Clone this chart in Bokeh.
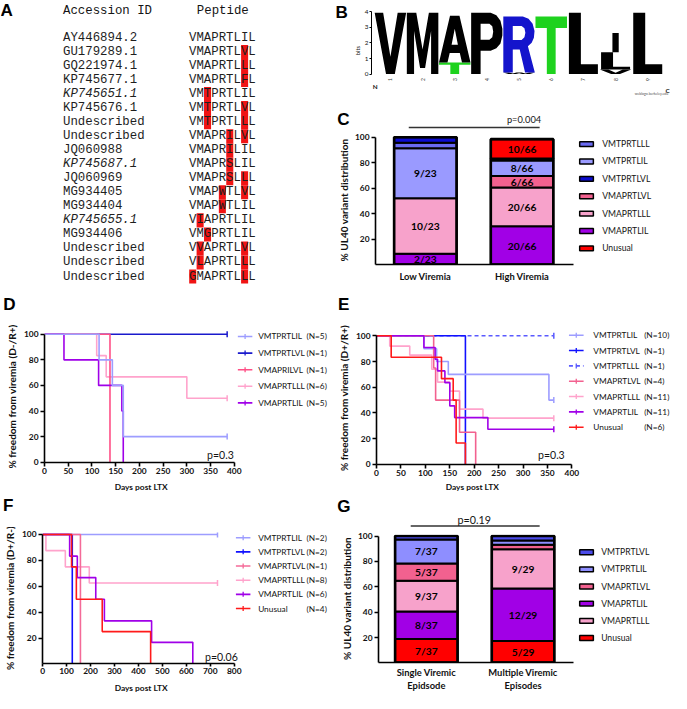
import numpy as np
from bokeh.plotting import figure
from bokeh.models import Range1d, FixedTicker, LinearAxis, ColumnDataSource
from bokeh.layouts import row, column
from bokeh.embed import file_html
from bokeh.resources import INLINE
from bokeh.core.properties import value

# ------------------------------------------------------------------ data
accession_ids = ["AY446894.2", "GU179289.1", "GQ221974.1", "KP745677.1", "KP745651.1",
                 "KP745676.1", "Undescribed", "Undescribed", "JQ060988", "KP745687.1",
                 "JQ060969", "MG934405", "MG934404", "KP745655.1", "MG934406",
                 "Undescribed", "Undescribed", "Undescribed"]
accession_italic = ["KP745651.1", "KP745687.1", "KP745655.1"]
peptides = ["VMAPRTLIL", "VMAPRTLVL", "VMAPRTLLL", "VMAPRTLFL", "VMTPRTLIL",
            "VMTPRTLVL", "VMTPRTLLL", "VMAPRILVL", "VMAPRILIL", "VMAPRSLIL",
            "VMAPRSLLL", "VMAPWTLVL", "VMAPWTLIL", "VIAPRTLIL", "VMGPRTLIL",
            "VVAPRTLVL", "VLAPRTLLL", "GMAPRTLLL"]
reference_peptide = "VMAPRTLIL"

logo_positions = [1, 2, 3, 4, 5, 6, 7, 8, 9]
logo_letters = [["V"], ["M"], ["T", "A"], ["P"], ["W", "R"], ["T"], ["L"], ["V", "L", "I"], ["L"]]
logo_bits = [[3.95], [3.95], [0.75, 3.0], [3.95], [0.1, 3.6], [3.7], [3.95], [0.3, 1.1, 1.25], [3.95]]
logo_ticks = [0, 1, 2, 3, 4]

c_groups = ["Low Viremia", "High Viremia"]
c_variants = ["VMAPRTLIL", "VMAPRTLLL", "VMAPRTLVL", "VMTPRTLIL", "VMTPRTLLL", "VMTPRTLVL", "Unusual"]
c_low = [2, 10, 0, 9, 1, 1, 0]
c_high = [20, 20, 6, 8, 0, 1, 10]
c_totals = [23, 66]
c_legend_order = ["VMTPRTLLL", "VMTPRTLIL", "VMTPRTLVL", "VMAPRTLVL", "VMAPRTLLL", "VMAPRTLIL", "Unusual"]
c_pvalue = "p=0.004"

g_groups = ["Single Viremic\nEpidsode", "Multiple Viremic\nEpisodes"]
g_variants = ["Unusual", "VMAPRTLIL", "VMAPRTLLL", "VMAPRTLVL", "VMTPRTLIL", "VMTPRTLVL"]
g_single = [7, 8, 9, 5, 7, 1]
g_multiple = [5, 12, 9, 1, 1, 1]
g_totals = [37, 29]
g_legend_order = ["VMTPRTLVL", "VMTPRTLIL", "VMAPRTLVL", "VMAPRTLIL", "VMAPRTLLL", "Unusual"]
g_pvalue = "p=0.19"

pct_ticks = [0, 20, 40, 60, 80, 100]
days_label = "Days post LTX"

d_names = ["VMTPRTLIL", "VMTPRTLVL", "VMAPRILVL", "VMAPRTLLL", "VMAPRTLIL"]
d_n = [5, 1, 1, 6, 5]
d_times = [[0, 115, 143, 166, 385], [0, 385], [0, 138], [0, 110, 130, 300, 385], [0, 41, 114, 163, 166]]
d_surv = [[100, 80, 60, 20, 20], [100, 100], [100, 0], [100, 83.3, 66.7, 50, 50], [100, 80, 60, 40, 0]]
d_censored = [True, True, False, True, False]
d_pvalue = "p=0.3"
d_days_ticks = [0, 50, 100, 150, 200, 250, 300, 350, 400]

e_names = ["VMTPRTLIL", "VMTPRTLVL", "VMTPRTLLL", "VMAPRTLVL", "VMAPRTLLL", "VMAPRTLIL", "Unusual"]
e_n = [10, 1, 1, 4, 11, 11, 6]
e_times = [[0, 97, 123, 147, 353, 363], [0, 182], [0, 363], [0, 117, 121, 170, 203],
           [0, 27, 68, 113, 125, 150, 170, 218, 363],
           [0, 97, 120, 125, 140, 150, 160, 228, 363],
           [0, 30, 133, 157, 163, 182]]
e_surv = [[100, 90, 80, 70, 50, 50], [100, 0], [100, 100], [100, 75, 50, 25, 0],
          [100, 92, 85, 74, 64, 57, 43, 36, 36],
          [100, 90.9, 81.8, 72.7, 63.6, 45.5, 36.4, 27.3, 27.3],
          [100, 83.3, 66.7, 50, 16.7, 0]]
e_censored = [True, False, True, False, True, True, False]
e_pvalue = "p=0.3"
e_days_ticks = [0, 50, 100, 150, 200, 250, 300, 350, 400]

f_names = ["VMTPRTLIL", "VMTPRTLVL", "VMAPRTLVL", "VMAPRTLLL", "VMAPRTLIL", "Unusual"]
f_n = [2, 2, 1, 8, 6, 4]
f_times = [[0, 730], [0, 124], [0, 158], [0, 14, 95, 195, 730],
           [0, 113, 145, 222, 258, 455, 627], [0, 121, 141, 249, 451]]
f_surv = [[100, 100], [100, 0], [100, 0], [100, 87.5, 75, 62.5, 62.5],
          [100, 83.3, 66.7, 50, 33.3, 16.7, 0], [100, 75, 50, 25, 0]]
f_censored = [True, False, False, True, False, False]
f_pvalue = "p=0.06"
f_days_ticks = [0, 100, 200, 300, 400, 500, 600, 700, 800]

# ------------------------------------------------------------------ style
S = 671 / 687.0
SANS = "Lato"
MONO = "Liberation Mono"
LETTER = "Liberation Sans"
LETTER_SIZE = 17.5

BAR_COLORS = {"VMTPRTLLL": "#6a6af2", "VMTPRTLIL": "#9a9aff", "VMTPRTLVL": "#0c0cd0",
              "VMAPRTLVL": "#f2618f", "VMAPRTLLL": "#f7a2cb", "VMAPRTLIL": "#a100e6",
              "Unusual": "#ff0000"}
G_COLORS = dict(BAR_COLORS, VMTPRTLVL="#4b4bea", VMTPRTLIL="#8e8eff")
LAV, LPINK, PURPLE, RED = "#9d9dff", "#ffa3cc", "#a000e8", "#ff1a1a"
D_COLORS = [LAV, "#1a1acc", "#ff4f86", LPINK, PURPLE]
E_COLORS = [LAV, "#1010ff", "#5a5aff", "#f2618f", LPINK, PURPLE, RED]
E_DASH = ["solid", "solid", "4 3", "solid", "solid", "solid", "solid"]
F_COLORS = [LAV, "#1010ff", "#f46a98", LPINK, PURPLE, RED]

LOGO_COLORS = {"T": "#1ed21e", "S": "#1ed21e", "G": "#1ed21e", "R": "#1414cc"}
LETTER_SHAPES = {
    "V": [[[(0, 1), (0.27, 1), (0.5, 0.28), (0.73, 1), (1, 1), (0.64, 0), (0.36, 0)]]],
    "M": [[[(0, 0), (0, 1), (0.3, 1), (0.5, 0.4), (0.7, 1), (1, 1), (1, 0), (0.77, 0), (0.77, 0.7),
            (0.58, 0.1), (0.42, 0.1), (0.23, 0.7), (0.23, 0)]]],
    "A": [[[(0, 0), (0.35, 1), (0.65, 1), (1, 0), (0.73, 0), (0.66, 0.2), (0.34, 0.2), (0.27, 0)],
           [(0.4, 0.38), (0.6, 0.38), (0.5, 0.72)]]],
    "T": [[[(0, 1), (1, 1), (1, 0.8), (0.64, 0.8), (0.64, 0), (0.36, 0), (0.36, 0.8), (0, 0.8)]]],
    "L": [[[(0.04, 0), (0.04, 1), (0.42, 1), (0.42, 0.16), (0.96, 0.16), (0.96, 0)]]],
    "I": [[[(0.4, 0), (0.4, 1), (0.6, 1), (0.6, 0)]]],
    "P": [[[(0, 0), (0, 1), (0.62, 1), (0.8, 0.96), (0.93, 0.87), (0.99, 0.74), (0.99, 0.63),
            (0.93, 0.5), (0.8, 0.42), (0.62, 0.38), (0.3, 0.38), (0.3, 0)],
           [(0.3, 0.56), (0.3, 0.82), (0.58, 0.82), (0.67, 0.78), (0.7, 0.69), (0.67, 0.6), (0.58, 0.56)]]],
    "R": [[[(0, 0), (0, 1), (0.62, 1), (0.8, 0.96), (0.93, 0.87), (0.99, 0.74), (0.97, 0.62),
            (0.9, 0.53), (0.78, 0.47), (1, 0), (0.69, 0), (0.52, 0.41), (0.3, 0.41), (0.3, 0)],
           [(0.3, 0.58), (0.3, 0.83), (0.58, 0.83), (0.67, 0.79), (0.7, 0.71), (0.67, 0.63), (0.58, 0.58)]]],
    "W": [[[(0, 1), (0.18, 1), (0.3, 0.3), (0.42, 1), (0.58, 1), (0.7, 0.3), (0.82, 1), (1, 1),
            (0.84, 0), (0.6, 0), (0.5, 0.55), (0.4, 0), (0.16, 0)]]],
}
LETTER_ADVANCE = {"A": 0.722, "B": 0.722, "C": 0.722, "D": 0.722, "E": 0.667, "F": 0.611, "G": 0.778}


def fs(v):
    return f"{v * S:.2f}px"


def _fig(W, H, xr, yr, L=0, R=0, T=0, B=0):
    p = figure(width=W, height=H, x_range=xr, y_range=yr, x_axis_type=None, y_axis_type=None,
               output_backend="svg", toolbar_location=None,
               min_border_left=L, min_border_right=R, min_border_top=T, min_border_bottom=B)
    p.outline_line_color = None
    p.background_fill_color = "white"
    p.border_fill_color = "white"
    return p


def strip(W, H, px0, py0, L=0, R=0, T=0, B=0):
    """Figure drawn in reference-pixel units (y downwards); frame inset by the given borders."""
    xr = Range1d((px0 + L) / S, (px0 + W - R) / S)
    yr = Range1d((py0 + H - B) / S, (py0 + T) / S)
    return _fig(W, H, xr, yr, L, R, T, B)


def strip_letter(p, t, left_ref, px0, L):
    """Panel letter rendered as a horizontal axis label in the strip's left border."""
    adv = LETTER_ADVANCE[t] * LETTER_SIZE * S
    standoff = int(round(L - (left_ref - px0 / S) * S - adv))
    ax = LinearAxis(ticker=FixedTicker(ticks=[]), axis_label=t)
    ax.axis_label_orientation = "horizontal"
    ax.axis_line_color = None
    ax.major_tick_line_color = None
    ax.minor_tick_line_color = None
    ax.major_tick_out = 0
    ax.major_tick_in = 0
    ax.major_label_standoff = 0
    ax.axis_label_standoff = max(0, standoff)
    ax.axis_label_text_font = LETTER
    ax.axis_label_text_font_style = "bold"
    ax.axis_label_text_font_size = fs(LETTER_SIZE)
    ax.axis_label_text_color = "black"
    p.add_layout(ax, "left")


def panel(W, H, px0, py0, frame, xmap, ymap):
    ox, oy = px0 / S, py0 / S
    fx0, fy0, fx1, fy1 = frame
    L = max(0, int(round((fx0 - ox) * S)))
    R = max(0, W - int(round((fx1 - ox) * S)))
    T = max(0, int(round((fy0 - oy) * S)))
    B = max(0, H - int(round((fy1 - oy) * S)))
    ax0, ax1 = ox + L / S, ox + (W - R) / S
    ay0, ay1 = oy + T / S, oy + (H - B) / S
    ra, da, rb, db = xmap
    ya, dya, yb, dyb = ymap

    def X(r):
        return da + (r - ra) * (db - da) / (rb - ra)

    def Y(r):
        return dya + (r - ya) * (dyb - dya) / (yb - ya)

    p = _fig(W, H, Range1d(X(ax0), X(ax1)), Range1d(Y(ay1), Y(ay0)), L, R, T, B)
    return p, X, Y, L, R


def add_axis(p, side, ticks, bounds, label=None, tick_size=8.6, label_size=10.3, tick_out=4,
             lab_standoff=2, axlab_standoff=3, overrides=None, lw=1.6, tick_style="bold", label_style="bold"):
    ax = LinearAxis(ticker=FixedTicker(ticks=ticks), bounds=bounds)
    if label:
        ax.axis_label = label
    ax.axis_line_width = lw
    ax.axis_line_color = "black"
    ax.major_tick_line_width = lw
    ax.major_tick_line_color = "black" if tick_out > 0 else None
    ax.major_tick_out = tick_out
    ax.major_tick_in = 0
    ax.minor_tick_line_color = None
    ax.major_label_text_font = SANS
    ax.major_label_text_font_size = fs(tick_size)
    ax.major_label_text_font_style = tick_style
    ax.major_label_text_color = "#111111"
    ax.major_label_standoff = lab_standoff
    ax.axis_label_text_font = SANS
    ax.axis_label_text_font_size = fs(label_size)
    ax.axis_label_text_font_style = label_style
    ax.axis_label_text_color = "#111111"
    ax.axis_label_standoff = axlab_standoff
    if overrides:
        ax.major_label_overrides = overrides
    p.add_layout(ax, side)
    return ax


def txt(p, x, y, t, size, font=SANS, style="normal", align="left", baseline="middle", color="#141414", angle=0):
    p.text(x=[x], y=[y], text=[t], text_font=value(font), text_font_size=value(fs(size)),
           text_font_style=style, text_align=align, text_baseline=baseline, text_color=color, angle=angle)


def glyph_letter(p, x, y, t):
    txt(p, x, y, t, LETTER_SIZE, font=LETTER, style="bold", color="black")


# page layout (page pixels)
LW, RW = 332, 339
TOP_H = 291
B_H, CS_H = 102, 31
MID_Y, STRIP_H = 291, 31
BOT_Y = 481
FS_H, FB_H = 46, 12
GS_H = 47
BL_W = 18

# ------------------------------------------------------------------ panel A
pA = strip(LW, TOP_H, 0, 0)
MONO_SIZE = 12.65
CW = MONO_SIZE * 0.6
ROW0, ROWSTEP = 38.3, 14.37
PEP_X, ID_X = 193, 64
hx, hy = [], []
for i, pep in enumerate(peptides):
    for j, ch in enumerate(pep):
        if ch != reference_peptide[j]:
            hx.append(PEP_X + (j + 0.5) * CW)
            hy.append(ROW0 + i * ROWSTEP)
pA.rect(x=hx, y=hy, width=CW * 0.95, height=ROWSTEP, fill_color="#f01414", line_color=None)
glyph_letter(pA, 0, 10, "A")
txt(pA, ID_X, 10.5, "Accession ID", MONO_SIZE, MONO)
txt(pA, 201, 10.5, "Peptide", MONO_SIZE, MONO)
norm = [(a, ROW0 + i * ROWSTEP) for i, a in enumerate(accession_ids) if a not in accession_italic]
ital = [(a, ROW0 + i * ROWSTEP) for i, a in enumerate(accession_ids) if a in accession_italic]
pA.text(x=[ID_X] * len(norm), y=[v for _, v in norm], text=[a for a, _ in norm], text_font=value(MONO),
        text_font_size=value(fs(MONO_SIZE)), text_baseline="middle", text_color="#1e1e1e")
pA.text(x=[ID_X] * len(ital), y=[v for _, v in ital], text=[a for a, _ in ital], text_font=value(MONO),
        text_font_size=value(fs(MONO_SIZE)), text_font_style="italic", text_baseline="middle", text_color="#1e1e1e")
pA.text(x=[PEP_X] * len(peptides), y=[ROW0 + i * ROWSTEP for i in range(len(peptides))], text=peptides,
        text_font=value(MONO), text_font_size=value(fs(MONO_SIZE)), text_baseline="middle", text_color="#1e1e1e")

# ------------------------------------------------------------------ panel B (logo)
pBl = strip(BL_W, B_H, LW, 0)
glyph_letter(pBl, 343, 9, "B")
pB, XB, YB_, _, _ = panel(RW - BL_W, B_H, LW + BL_W, 0, (373, 4, 687.5, 98), (392.5, 1, 662.1, 9),
                          (75.3, 0, 11.7, 4))
xs_all, ys_all, cols = [], [], []
for pos, lets, bits in zip(logo_positions, logo_letters, logo_bits):
    y0 = 0.0
    for L_, h in zip(lets, bits):
        px_, py_ = [], []
        for polygon in LETTER_SHAPES[L_]:
            px_.append([[pos - 0.49 + u * 0.98 for u, v in ring] for ring in polygon])
            py_.append([[y0 + v * h for u, v in ring] for ring in polygon])
        xs_all.append(px_)
        ys_all.append(py_)
        cols.append(LOGO_COLORS.get(L_, "black"))
        y0 += h
pB.multi_polygons(xs=xs_all, ys=ys_all, fill_color=cols, line_color=None)
add_axis(pB, "left", logo_ticks, (0, 4), label="bits", tick_size=6.5, label_size=6, tick_out=2, lab_standoff=1,
         axlab_standoff=1, lw=1.0, tick_style="normal", label_style="normal")
for pos in logo_positions:
    txt(pB, pos, YB_(81), str(pos), 5, align="center", angle=np.pi / 2, color="#333333")
txt(pB, XB(376.5), YB_(88), "N", 6.5, style="bold", align="center")
txt(pB, XB(683), YB_(92), "C", 6.5, style="bold", align="center")
txt(pB, XB(666), YB_(96), "weblogo.berkeley.edu", 3.6, align="center", color="#555555")


# ------------------------------------------------------------------ stacked bars helpers
def draw_bars(p, counts_list, totals, variants, colors, width):
    for k, (counts, tot) in enumerate(zip(counts_list, totals)):
        xi = k + 1
        cum = 0.0
        src = dict(x=[], b=[], t=[], fill=[])
        labs = []
        for v, n in zip(variants, counts):
            if n == 0:
                continue
            h = n / tot * 100.0
            src["x"].append(xi)
            src["b"].append(cum)
            src["t"].append(cum + h)
            src["fill"].append(colors[v])
            if h >= 5:
                labs.append((cum + h / 2, f"{n}/{tot}"))
            cum += h
        p.vbar(source=ColumnDataSource(src), x="x", bottom="b", top="t", width=width, fill_color="fill",
               line_color="black", line_width=2)
        p.vbar(x=[xi], bottom=[0], top=[cum], width=width, fill_color=None, line_color="black", line_width=2.6)
        for yc, t in labs:
            txt(p, xi, yc, t, 10.5, style="bold", align="center", color="black")


def bar_legend(p, X, Y, order, colors, y0, step, sw_x0, sw_x1, text_x):
    for i, v in enumerate(order):
        yy = Y(y0 + i * step)
        p.rect(x=[X((sw_x0 + sw_x1) / 2)], y=[yy], width=X(sw_x1) - X(sw_x0), height=abs(Y(0) - Y(5)),
               fill_color=colors[v], line_color="black", line_width=1.5)
        txt(p, X(text_x), yy, v, 8.8)


# ------------------------------------------------------------------ panel C
pC, XC, YC, LC, RC = panel(RW, TOP_H - B_H - CS_H, LW, B_H + CS_H, (384, 138, 687.5, 270.7),
                           (435, 1, 534, 2), (270.7, 0, 140, 100))
draw_bars(pC, [c_low, c_high], c_totals, c_variants, BAR_COLORS, 64 / 99)
add_axis(pC, "left", pct_ticks, (0, 100), label="% UL40 variant distribution", axlab_standoff=2)
add_axis(pC, "below", [1, 2], (XC(384), XC(587)), tick_out=0, lab_standoff=6, tick_size=9.6,
         overrides={1: c_groups[0], 2: c_groups[1]})
bar_legend(pC, XC, YC, c_legend_order, BAR_COLORS, 147, 17.8, 593, 607, 616)

pCs = strip(RW, CS_H, LW, B_H, L=LC, R=RC, T=2)
strip_letter(pCs, "C", 345, LW, LC)
pCs.line(x=[418, 552], y=[130, 130], line_color="#333333", line_width=1.5)
txt(pCs, 536, 122, c_pvalue, 9.5, align="center")


# ------------------------------------------------------------------ KM helper
def draw_km(p, X, Y, names, ns, times, survs, censored, colors, dashes, order, leg):
    for i in order:
        p.step(x=times[i], y=survs[i], mode="after", line_color=colors[i], line_width=1.6, line_dash=dashes[i])
        if censored[i]:
            p.scatter(x=[times[i][-1]], y=[survs[i][-1]], marker="dash", angle=np.pi / 2, size=6,
                      line_color=colors[i], line_width=1.5)
    ly0, lstep, lx0, lx1, nx, nnx = leg
    for i, (nm, n) in enumerate(zip(names, ns)):
        yy = Y(ly0 + i * lstep)
        p.line(x=[X(lx0), X(lx1)], y=[yy, yy], line_color=colors[i], line_width=1.6, line_dash=dashes[i])
        p.scatter(x=[X((lx0 + lx1) / 2)], y=[yy], marker="dash", angle=np.pi / 2, size=5,
                  line_color=colors[i], line_width=1.3)
        txt(p, X(nx), yy, nm, 8.5)
        txt(p, X(nnx), yy, f"(N={n})", 8.5)


# ------------------------------------------------------------------ panel D
pD, XD, YD, LD, RD = panel(LW, BOT_Y - MID_Y - STRIP_H, 0, MID_Y + STRIP_H, (42, 337.8, 340, 472.7),
                           (42, 0, 238.3, 400), (472.7, 0, 341.7, 100))
draw_km(pD, XD, YD, d_names, d_n, d_times, d_surv, d_censored, D_COLORS, ["solid"] * 5,
        [1, 3, 2, 4, 0], (344, 17, 242, 257, 263, 313))
add_axis(pD, "left", pct_ticks, (0, 100), label="% freedom from viremia (D-/R+)", axlab_standoff=3)
add_axis(pD, "below", d_days_ticks, (0, 400), lab_standoff=1)
txt(pD, XD(224), YD(465), d_pvalue, 10.8, align="center")
pDs = strip(LW, STRIP_H, 0, MID_Y, L=LD, R=RD, B=6)
strip_letter(pDs, "D", 0, 0, LD)

# ------------------------------------------------------------------ panel E
pE, XE, YE, LE, RE = panel(RW, BOT_Y - MID_Y - STRIP_H, LW, MID_Y + STRIP_H, (385, 338.6, 687.5, 475),
                           (385, 0, 585, 400), (475, 0, 343.3, 100))
draw_km(pE, XE, YE, e_names, e_n, e_times, e_surv, e_censored, E_COLORS, E_DASH,
        [2, 1, 0, 4, 3, 5, 6], (342.7, 15.7, 582, 597, 607, 659))
add_axis(pE, "left", pct_ticks, (0, 100), label="% freedom from viremia (D+/R+)", axlab_standoff=3)
add_axis(pE, "below", e_days_ticks, (0, 400), lab_standoff=1)
txt(pE, XE(564), YE(465), e_pvalue, 10.8, align="center")
pEs = strip(RW, STRIP_H, LW, MID_Y, L=LE, R=RE, B=6)
strip_letter(pEs, "E", 346, LW, LE)

# ------------------------------------------------------------------ panel F
F_H = 693 - BOT_Y - FS_H - FB_H
pF, XF, YF, LF, RF = panel(LW, F_H, 0, BOT_Y + FS_H, (40, 544.7, 340, 679.3),
                           (40, 0, 238.3, 800), (679.3, 0, 546.7, 100))
draw_km(pF, XF, YF, f_names, f_n, f_times, f_surv, f_censored, F_COLORS, ["solid"] * 6,
        [0, 3, 1, 2, 4, 5], (550, 14.5, 240, 255, 263, 313))
add_axis(pF, "left", pct_ticks, (0, 100), label="% freedom from viremia (D+/R-)", axlab_standoff=3)
add_axis(pF, "below", f_days_ticks, (0, 800), lab_standoff=1, tick_out=3)
txt(pF, XF(225), YF(671.7), f_pvalue, 10.8, align="center")
pFs = strip(LW, FS_H, 0, BOT_Y, L=LF, R=RF, T=1)
txt(pFs, 142, 498.5, days_label, 8.6, style="bold", align="center", color="#111111")
strip_letter(pFs, "F", 0, 0, LF)
pFb = strip(LW, FB_H, 0, 693 - FB_H, L=LF, R=RF)
txt(pFb, 142, 704, days_label, 8.6, style="bold", align="center", color="#111111")

# ------------------------------------------------------------------ panel G
pG, XG, YG, LG, RG = panel(RW, 693 - BOT_Y - GS_H, LW, BOT_Y + GS_H, (387, 546.3, 687.5, 679.3),
                           (436, 1, 535, 2), (679.3, 0, 548.3, 100))
draw_bars(pG, [g_single, g_multiple], g_totals, g_variants, G_COLORS, 64 / 99)
add_axis(pG, "left", pct_ticks, (0, 100), label="% UL40 variant distribution", axlab_standoff=2)
add_axis(pG, "below", [1, 2], (XG(387), XG(587)), tick_out=0, lab_standoff=4, tick_size=9.6,
         overrides={1: g_groups[0], 2: g_groups[1]})
bar_legend(pG, XG, YG, g_legend_order, G_COLORS, 565, 17.7, 593, 607, 615)
pGs = strip(RW, GS_H, LW, BOT_Y, L=LG, R=RG, T=2)
txt(pGs, 483, 498.5, days_label, 8.6, style="bold", align="center", color="#111111")
strip_letter(pGs, "G", 345, LW, LG)
pGs.line(x=[420, 552], y=[538, 538], line_color="#333333", line_width=1.5)
txt(pGs, 485, 531.5, g_pvalue, 11, align="center")

# ------------------------------------------------------------------ layout
top = row(pA, column(row(pBl, pB), pCs, pC))
mid = row(column(pDs, pD), column(pEs, pE))
bot = row(column(pFs, pF, pFb), column(pGs, pG))
layout = column(top, mid, bot)
open("out.html", "w").write(file_html(layout, INLINE))
